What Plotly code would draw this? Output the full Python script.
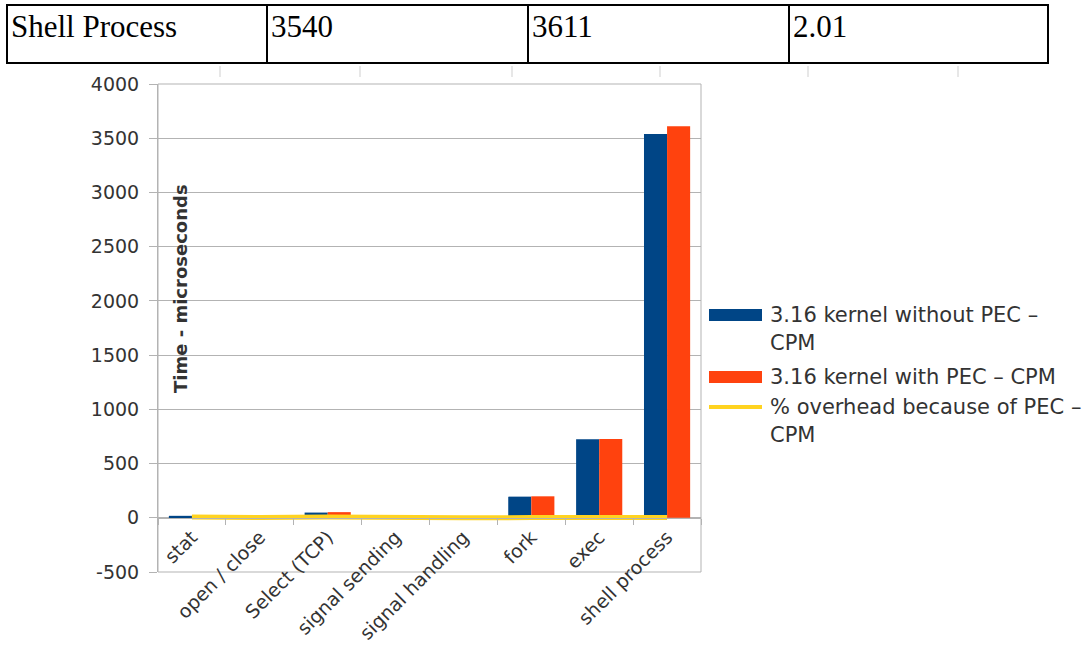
import plotly.graph_objects as go

# ---- data -------------------------------------------------------------
categories = ["stat", "open / close", "Select (TCP)", "signal sending",
              "signal handling", "fork", "exec", "shell process"]
without_pec = [18, 3, 48, 1, 2, 195, 725, 3540]
with_pec = [20, 3, 52, 1, 2, 198, 726, 3611]
overhead_pct = [6.7, 1.5, 8.3, 0.5, 0.5, 1.6, 0.1, 2.01]

table_row = ["Shell Process", "3540", "3611", "2.01"]

series_names = ["3.16 kernel without PEC \u2013 CPM",
                "3.16 kernel with PEC \u2013 CPM",
                "% overhead because of PEC \u2013 CPM"]
legend_lines = [["3.16 kernel without PEC \u2013", "CPM"],
                ["3.16 kernel with PEC \u2013 CPM"],
                ["% overhead because of PEC \u2013", "CPM"]]

y_range = [-500, 4000]
y_step = 500
y_ticks = list(range(y_range[0], y_range[1] + 1, y_step))
y_ticktext = [str(v) for v in y_ticks]   # plain hyphen for negatives

# ---- geometry (pixels) -----------------------------------------------
FIG_W, FIG_H = 1082, 658
L, R, T, B = 158, 701, 84, 572
W, H = R - L, B - T


def fx(px):
    return (px - L) / W


def fy(py):
    return (B - py) / H


BLUE, RED, YELLOW = "#004586", "#ff420e", "#ffd320"
GRID = "#b3b3b3"
TEXT = "#333333"
SANS = "DejaVu Sans"
SERIF = "Liberation Serif"

fig = go.Figure()
fig.add_trace(go.Bar(x=categories, y=without_pec, name=series_names[0],
                     marker=dict(color=BLUE, line=dict(width=0))))
fig.add_trace(go.Bar(x=categories, y=with_pec, name=series_names[1],
                     marker=dict(color=RED, line=dict(width=0))))
fig.add_trace(go.Scatter(x=categories, y=overhead_pct, name=series_names[2],
                         mode="lines", line=dict(color=YELLOW, width=5)))

# x axis crosses the value axis at zero
zero_pos = (0 - y_range[0]) / (y_range[1] - y_range[0])

shapes = []
annotations = []

# plot frame
shapes.append(dict(type="rect", xref="paper", yref="paper", x0=0, x1=1, y0=0, y1=1,
                   line=dict(color=GRID, width=1), layer="below"))

# small marks along the top edge
for px in [220, 360, 512, 660, 808, 958]:
    shapes.append(dict(type="line", xref="paper", yref="paper",
                       x0=fx(px), x1=fx(px), y0=fy(66), y1=fy(77),
                       line=dict(color="#cfcfcf", width=1)))

# table row above the chart
col_edges = [7, 267, 528, 789, 1048]
for yy in [5, 63]:
    shapes.append(dict(type="line", xref="paper", yref="paper",
                       x0=fx(col_edges[0] - 1), x1=fx(col_edges[-1] + 1),
                       y0=fy(yy), y1=fy(yy), line=dict(color="black", width=2)))
for xx in col_edges:
    shapes.append(dict(type="line", xref="paper", yref="paper",
                       x0=fx(xx), x1=fx(xx), y0=fy(5), y1=fy(63),
                       line=dict(color="black", width=2)))
for i, txt in enumerate(table_row):
    annotations.append(dict(text=txt, xref="paper", yref="paper",
                            x=fx(col_edges[i] + 2), y=fy(27), xanchor="left",
                            yanchor="middle", showarrow=False,
                            font=dict(family=SERIF, size=31, color="black")))

# value axis title, drawn inside the plot
annotations.append(dict(text="Time - microseconds", xref="paper", yref="paper",
                        x=fx(180), y=fy(289), textangle=-90, showarrow=False,
                        xanchor="center", yanchor="middle",
                        font=dict(family=SANS, size=18, color=TEXT, weight="bold")))

# legend
sw_x0, sw_x1, txt_x = 709, 762, 768
entry_y = [315, 377, 407]
line_step = 28
for k, (color, ys) in enumerate(zip([BLUE, RED, YELLOW], entry_y)):
    if k < 2:
        shapes.append(dict(type="rect", xref="paper", yref="paper",
                           x0=fx(sw_x0), x1=fx(sw_x1), y0=fy(ys + 6), y1=fy(ys - 6),
                           fillcolor=color, line=dict(width=0)))
    else:
        shapes.append(dict(type="line", xref="paper", yref="paper",
                           x0=fx(sw_x0), x1=fx(sw_x1), y0=fy(ys), y1=fy(ys),
                           line=dict(color=color, width=4)))
    for j, ln in enumerate(legend_lines[k]):
        annotations.append(dict(text=ln, xref="paper", yref="paper",
                                x=fx(txt_x), y=fy(ys + j * line_step),
                                xanchor="left", yanchor="middle", showarrow=False,
                                font=dict(family=SANS, size=21, color=TEXT)))

fig.update_layout(
    width=FIG_W, height=FIG_H, autosize=False,
    margin=dict(l=L, r=FIG_W - R, t=T, b=FIG_H - B, pad=0),
    paper_bgcolor="white", plot_bgcolor="white",
    showlegend=False,
    barmode="group", bargap=0.32, bargroupgap=0,
    shapes=shapes, annotations=annotations,
    xaxis=dict(type="category", range=[-0.5, len(categories) - 0.5],
               anchor="free", position=zero_pos,
               showline=True, linecolor=GRID, linewidth=1,
               ticks="outside", tickson="boundaries", ticklen=6, tickcolor=GRID,
               tickangle=-45, showgrid=False,
               tickfont=dict(family=SANS, size=19, color=TEXT)),
    yaxis=dict(range=y_range, tickmode="array", tickvals=y_ticks, ticktext=y_ticktext,
               showgrid=True, gridcolor=GRID, gridwidth=1, zeroline=False,
               showline=True, linecolor=GRID, linewidth=1,
               ticks="outside", ticklen=8, tickcolor=GRID, ticklabelstandoff=6,
               tickfont=dict(family=SANS, size=19, color=TEXT)),
)

fig.write_html("out.html")
